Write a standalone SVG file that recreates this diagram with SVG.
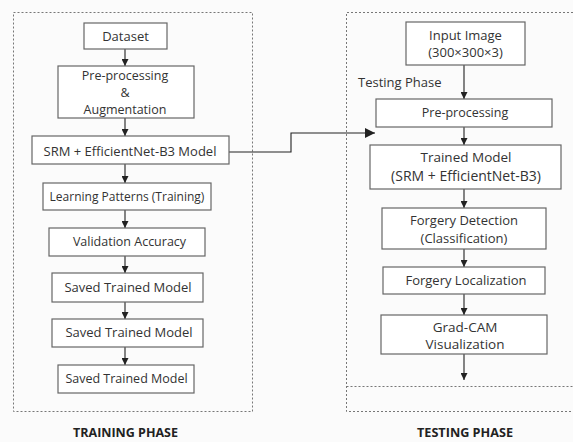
<svg xmlns="http://www.w3.org/2000/svg" width="573" height="442" viewBox="0 0 573 442">
<defs>
<marker id="ah" viewBox="0 0 10 10" refX="10" refY="5" markerWidth="7" markerHeight="7" markerUnits="userSpaceOnUse" orient="auto"><path d="M0,0 L10,5 L0,10 z" fill="#222"/></marker>
<marker id="ah2" viewBox="0 0 10 10" refX="10" refY="5" markerWidth="10" markerHeight="10" markerUnits="userSpaceOnUse" orient="auto"><path d="M0,0 L10,5 L0,10 z" fill="#222"/></marker>
</defs>
<style>
.box{fill:#fff;stroke:#666;stroke-width:1.2}
.t{font-family:"Open Sans","Liberation Sans",sans-serif;font-size:13px;fill:#333;text-anchor:middle;dominant-baseline:central}
.h{font-family:"Open Sans","Liberation Sans",sans-serif;font-size:13px;font-weight:bold;fill:#222;text-anchor:middle}
.dash{fill:none;stroke:#777;stroke-width:1;stroke-dasharray:2,2}
.c{fill:none;stroke:#222;stroke-width:1.1}
</style>
<rect width="573" height="442" fill="#fbfbfb"/>
<g id="frames">
<rect class="dash" x="13.5" y="12.5" width="239" height="399"/>
<path class="dash" d="M573,12.5 H346.5 V411.5 H573"/>
<path class="dash" d="M346.5,386.5 H573"/>
</g>
<g id="connectors">
<line class="c" x1="125" y1="49" x2="125" y2="66" marker-end="url(#ah)"/>
<line class="c" x1="125" y1="118" x2="125" y2="136" marker-end="url(#ah)"/>
<line class="c" x1="125" y1="164" x2="125" y2="183" marker-end="url(#ah)"/>
<line class="c" x1="125" y1="210" x2="125" y2="228" marker-end="url(#ah)"/>
<line class="c" x1="125" y1="256" x2="125" y2="273" marker-end="url(#ah)"/>
<line class="c" x1="125" y1="302" x2="125" y2="319" marker-end="url(#ah)"/>
<line class="c" x1="125" y1="347" x2="125" y2="365" marker-end="url(#ah)"/>
<line class="c" x1="464" y1="65" x2="464" y2="99" marker-end="url(#ah)"/>
<line class="c" x1="464" y1="127" x2="464" y2="145" marker-end="url(#ah)"/>
<line class="c" x1="464" y1="189" x2="464" y2="208" marker-end="url(#ah)"/>
<line class="c" x1="464" y1="249" x2="464" y2="267" marker-end="url(#ah)"/>
<line class="c" x1="464" y1="294" x2="464" y2="315" marker-end="url(#ah)"/>
<line class="c" x1="464" y1="354" x2="464" y2="380" marker-end="url(#ah)"/>
<path class="c" d="M229,152 H291 V133 H375" marker-end="url(#ah2)"/>
</g>
<g id="n-dataset"><rect class="box" x="84" y="23" width="83" height="26"/><text class="t" x="125.5" y="36">Dataset</text></g>
<g id="n-preproc"><rect class="box" x="58" y="66" width="136" height="52"/><text class="t" x="125" y="75" style="font-size:12.5px">Pre-processing</text><text class="t" x="125" y="92" style="font-size:12.5px">&amp;</text><text class="t" x="125" y="109" style="font-size:12.5px">Augmentation</text></g>
<g id="n-srm"><rect class="box" x="32" y="136" width="197" height="28"/><text class="t" x="130" y="151">SRM + EfficientNet-B3 Model</text></g>
<g id="n-learn"><rect class="box" x="43" y="183" width="168" height="27"/><text class="t" x="127" y="196" style="font-size:12px">Learning Patterns (Training)</text></g>
<g id="n-valid"><rect class="box" x="49" y="228" width="156" height="28"/><text class="t" x="129.5" y="241" style="font-size:12.5px">Validation Accuracy</text></g>
<g id="n-saved1"><rect class="box" x="52" y="273" width="151" height="29"/><text class="t" x="128" y="287">Saved Trained Model</text></g>
<g id="n-saved2"><rect class="box" x="52" y="319" width="151" height="28"/><text class="t" x="129" y="332">Saved Trained Model</text></g>
<g id="n-saved3"><rect class="box" x="58" y="365" width="136" height="28"/><text class="t" x="126.5" y="378" style="font-size:12.5px">Saved Trained Model</text></g>
<g id="n-input"><rect class="box" x="406" y="22" width="119" height="43"/><text class="t" x="465.5" y="35">Input Image</text><text class="t" x="465.5" y="52">(300×300×3)</text></g>
<g id="n-tpre"><rect class="box" x="376" y="99" width="176" height="28"/><text class="t" x="465" y="112" style="font-size:12.5px">Pre-processing</text></g>
<g id="n-trained"><rect class="box" x="370" y="145" width="191" height="44"/><text class="t" x="466" y="157" style="font-size:13.5px">Trained Model</text><text class="t" x="466" y="175.5" style="font-size:14px">(SRM + EfficientNet-B3)</text></g>
<g id="n-detect"><rect class="box" x="382" y="208" width="164" height="41"/><text class="t" x="464" y="220">Forgery Detection</text><text class="t" x="464" y="237.5">(Classification)</text></g>
<g id="n-local"><rect class="box" x="383" y="267" width="162" height="27"/><text class="t" x="466" y="280">Forgery Localization</text></g>
<g id="n-gradcam"><rect class="box" x="381" y="315" width="166" height="39"/><text class="t" x="465" y="326.5" style="font-size:13.5px">Grad-CAM</text><text class="t" x="465" y="344" style="font-size:13.5px">Visualization</text></g>
<g id="labels">
<text class="t" x="358" y="82" style="text-anchor:start">Testing Phase</text>
<text class="h" x="125.5" y="437" textLength="105" lengthAdjust="spacingAndGlyphs">TRAINING PHASE</text>
<text class="h" x="465" y="437" textLength="96" lengthAdjust="spacingAndGlyphs">TESTING PHASE</text>
</g>
</svg>
